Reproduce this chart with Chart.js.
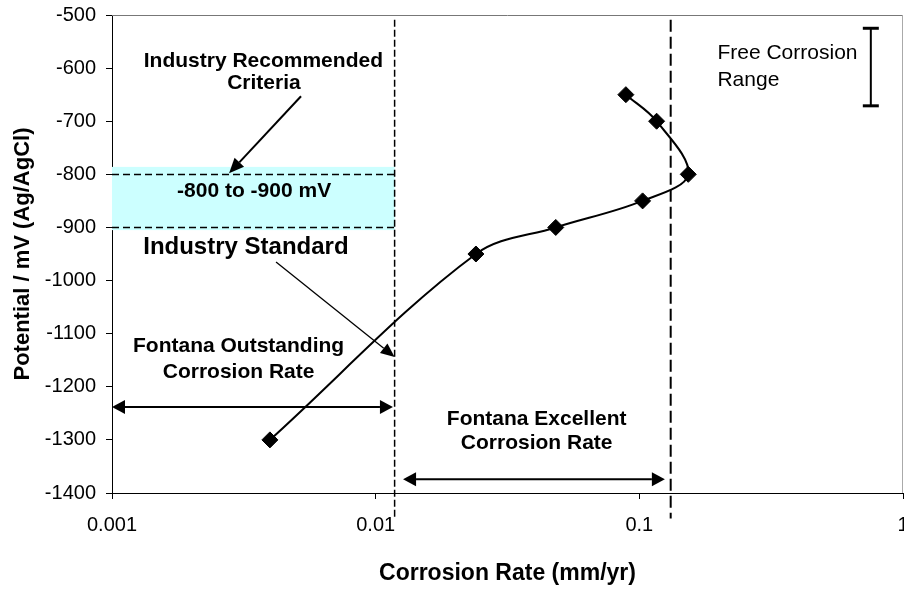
<!DOCTYPE html>
<html>
<head>
<meta charset="utf-8">
<script src="https://cdn.jsdelivr.net/npm/chart.js@4/dist/chart.umd.min.js"></script>
<style>
  html, body { margin: 0; padding: 0; background: #fff; }
  #wrap { width: 904px; height: 591px; }
</style>
</head>
<body>
<div id="wrap"><canvas id="c" width="904" height="591"></canvas></div>
<script>
// Corrosion rate measured at each applied potential
const corrosionRate = [0.00397, 0.024, 0.0482, 0.1029, 0.1533, 0.1163, 0.0889];
const potential     = [-1300, -950, -900, -850, -800, -700, -650];

// Axis ticks
const xTickValues = [0.001, 0.01, 0.1, 1];
const xTickLabels = ['0.001', '0.01', '0.1', '1'];
const yMin = -1400, yMax = -500, yStep = 100;

// Reference limits
const criteriaLimits     = [-800, -900];      // industry recommended window (mV)
const criteriaShade      = [-786, -905];      // shaded window extent (mV)
const fontanaLimits      = [0.0118, 0.1315];  // outstanding / excellent rate limits (mm/yr)
const freeCorrosionRange = [-525, -671];      // free corrosion potential range (mV)

const FONT = '"Liberation Sans", Arial, Helvetica, sans-serif';

// Annotation layout, in data units
const layoutCfg = {
  limitLineSpan: [-509, -1448],
  freeBarX: 0.755,
  notes: [
    { text: 'Industry Recommended', x: 0.00375, y: -597, size: 21, bold: true },
    { text: 'Criteria',             x: 0.00377, y: -640, size: 21, bold: true },
    { text: '-800 to -900 mV',      x: 0.00346, y: -843, size: 21, bold: true },
    { text: 'Industry Standard',    x: 0.00322, y: -950, size: 24, bold: true },
    { text: 'Fontana Outstanding',  x: 0.00302, y: -1135, size: 21, bold: true },
    { text: 'Corrosion Rate',       x: 0.00302, y: -1183, size: 21, bold: true },
    { text: 'Fontana Excellent',    x: 0.0408,  y: -1272, size: 21, bold: true },
    { text: 'Corrosion Rate',       x: 0.0408,  y: -1318, size: 21, bold: true },
    { text: 'Free Corrosion',       x: 0.1978,  y: -583, size: 21, bold: false, align: 'left' },
    { text: 'Range',                x: 0.1978,  y: -634, size: 21, bold: false, align: 'left' }
  ],
  arrows: [
    { from: [0.00521, -653], to: [0.00278, -798], width: 2,   head: 15, half: 6.5, both: false },
    { from: [0.00419, -965], to: [0.0118, -1144], width: 1.3, head: 14, half: 6,   both: false },
    { from: [0.001, -1238],  to: [0.01163, -1238], width: 2,  head: 13, half: 7,   both: true },
    { from: [0.0127, -1374], to: [0.125, -1374],   width: 2,  head: 13, half: 7,   both: true }
  ]
};

function drawArrow(ctx, x1, y1, x2, y2, a) {
  const dx = x2 - x1, dy = y2 - y1, len = Math.hypot(dx, dy);
  const ux = dx / len, uy = dy / len, nx = -uy, ny = ux;
  const sx = a.both ? x1 + ux * a.head : x1, sy = a.both ? y1 + uy * a.head : y1;
  const ex = x2 - ux * a.head, ey = y2 - uy * a.head;
  ctx.save();
  ctx.strokeStyle = '#000';
  ctx.fillStyle = '#000';
  ctx.lineWidth = a.width;
  ctx.setLineDash([]);
  ctx.beginPath();
  ctx.moveTo(sx, sy);
  ctx.lineTo(ex, ey);
  ctx.stroke();
  const head = (tx, ty, bx, by) => {
    ctx.beginPath();
    ctx.moveTo(tx, ty);
    ctx.lineTo(bx + nx * a.half, by + ny * a.half);
    ctx.lineTo(bx - nx * a.half, by - ny * a.half);
    ctx.closePath();
    ctx.fill();
  };
  head(x2, y2, ex, ey);
  if (a.both) head(x1, y1, sx, sy);
  ctx.restore();
}

const annotations = {
  id: 'annotations',
  beforeDatasetsDraw(chart) {
    const { ctx, scales: { x, y } } = chart;
    // shaded criteria window
    const l = x.getPixelForValue(x.min), r = x.getPixelForValue(fontanaLimits[0]);
    const t = y.getPixelForValue(criteriaShade[0]), b = y.getPixelForValue(criteriaShade[1]);
    ctx.save();
    ctx.fillStyle = '#CCFFFF';
    ctx.fillRect(l, t, r - l, b - t);
    // dashed window limits
    ctx.strokeStyle = '#000';
    ctx.lineWidth = 1.5;
    ctx.setLineDash([7, 4]);
    criteriaLimits.forEach(v => {
      const py = Math.round(y.getPixelForValue(v)) + 0.5;
      ctx.beginPath();
      ctx.moveTo(l, py);
      ctx.lineTo(r, py);
      ctx.stroke();
    });
    ctx.restore();
  },
  afterDraw(chart) {
    const { ctx, chartArea: ca, scales: { x, y } } = chart;
    ctx.save();
    // frame on top and right of the plot
    ctx.lineWidth = 1;
    ctx.strokeStyle = '#777';
    ctx.beginPath();
    ctx.moveTo(ca.left, Math.round(ca.top) + 0.5);
    ctx.lineTo(ca.right, Math.round(ca.top) + 0.5);
    ctx.stroke();
    ctx.strokeStyle = '#aaa';
    ctx.beginPath();
    ctx.moveTo(Math.round(ca.right) - 0.5, ca.top);
    ctx.lineTo(Math.round(ca.right) - 0.5, ca.bottom);
    ctx.stroke();

    // Fontana limit lines
    const [v0, v1] = layoutCfg.limitLineSpan;
    const styles = [{ dash: [7, 3], w: 1.5 }, { dash: [12, 5], w: 2 }];
    fontanaLimits.forEach((lim, i) => {
      const px = x.getPixelForValue(lim);
      ctx.strokeStyle = '#000';
      ctx.lineWidth = styles[i].w;
      ctx.setLineDash(styles[i].dash);
      ctx.beginPath();
      ctx.moveTo(px, y.getPixelForValue(v0));
      ctx.lineTo(px, y.getPixelForValue(v1));
      ctx.stroke();
    });
    ctx.setLineDash([]);

    // free corrosion range bar
    const bx = x.getPixelForValue(layoutCfg.freeBarX);
    const bt = y.getPixelForValue(freeCorrosionRange[0]);
    const bb = y.getPixelForValue(freeCorrosionRange[1]);
    ctx.strokeStyle = '#000';
    ctx.lineWidth = 2;
    ctx.beginPath();
    ctx.moveTo(bx, bt);
    ctx.lineTo(bx, bb);
    ctx.stroke();
    ctx.lineWidth = 3;
    [bt, bb].forEach(py => {
      ctx.beginPath();
      ctx.moveTo(bx - 8, py);
      ctx.lineTo(bx + 8, py);
      ctx.stroke();
    });

    // arrows
    layoutCfg.arrows.forEach(a => {
      drawArrow(ctx,
        x.getPixelForValue(a.from[0]), y.getPixelForValue(a.from[1]),
        x.getPixelForValue(a.to[0]), y.getPixelForValue(a.to[1]), a);
    });

    // text notes
    ctx.fillStyle = '#000';
    ctx.textBaseline = 'alphabetic';
    layoutCfg.notes.forEach(n => {
      ctx.font = `${n.bold ? 'bold ' : ''}${n.size}px ${FONT}`;
      ctx.textAlign = n.align || 'center';
      ctx.fillText(n.text, x.getPixelForValue(n.x), y.getPixelForValue(n.y));
    });
    ctx.restore();
  }
};

// keep the plot area fixed: no extra room reserved for edge tick labels
function noEdgePadding(s) {
  s.paddingLeft = 0;
  s.paddingRight = 0;
  s.paddingTop = 0;
  s.paddingBottom = 0;
}

const points = corrosionRate.map((r, i) => ({ x: r, y: potential[i] }));

new Chart(document.getElementById('c'), {
  type: 'scatter',
  data: {
    datasets: [{
      data: points,
      showLine: true,
      borderColor: '#000',
      borderWidth: 2,
      tension: 0.35,
      pointStyle: 'rectRot',
      pointRadius: 8,
      pointBackgroundColor: '#000',
      pointBorderColor: '#000',
      pointBorderWidth: 1,
      clip: false
    }]
  },
  options: {
    responsive: false,
    animation: false,
    devicePixelRatio: 1,
    layout: { padding: { top: 15, right: 1, left: 0, bottom: 0 }, autoPadding: false },
    plugins: { legend: { display: false }, tooltip: { enabled: false } },
    scales: {
      x: {
        type: 'logarithmic',
        min: 0.001,
        max: 1,
        afterBuildTicks: s => { s.ticks = xTickValues.map(v => ({ value: v })); },
        afterFit: s => { s.height = 98; noEdgePadding(s); },
        ticks: {
          autoSkip: false,
          maxRotation: 0,
          padding: 14,
          color: '#000',
          font: { family: FONT, size: 20 },
          callback: v => xTickLabels[xTickValues.indexOf(v)]
        },
        grid: { display: true, drawOnChartArea: false, drawTicks: true, tickLength: 6, color: '#000' },
        border: { display: true, color: '#000', width: 1 },
        title: {
          display: true,
          text: 'Corrosion Rate (mm/yr)',
          color: '#000',
          font: { family: FONT, size: 23, weight: 'bold' },
          padding: { top: 0, bottom: 4 }
        }
      },
      y: {
        type: 'linear',
        min: yMin,
        max: yMax,
        afterFit: s => { s.width = 112; noEdgePadding(s); },
        ticks: {
          stepSize: yStep,
          padding: 10,
          color: '#000',
          font: { family: FONT, size: 20 },
          callback: v => String(v)
        },
        grid: { display: true, drawOnChartArea: false, drawTicks: true, tickLength: 6, color: '#000' },
        border: { display: true, color: '#000', width: 1 },
        title: {
          display: true,
          text: 'Potential / mV (Ag/AgCl)',
          color: '#000',
          font: { family: FONT, size: 22, weight: 'bold' },
          padding: { top: 10, bottom: 0 }
        }
      }
    }
  },
  plugins: [annotations]
});
</script>
</body>
</html>
